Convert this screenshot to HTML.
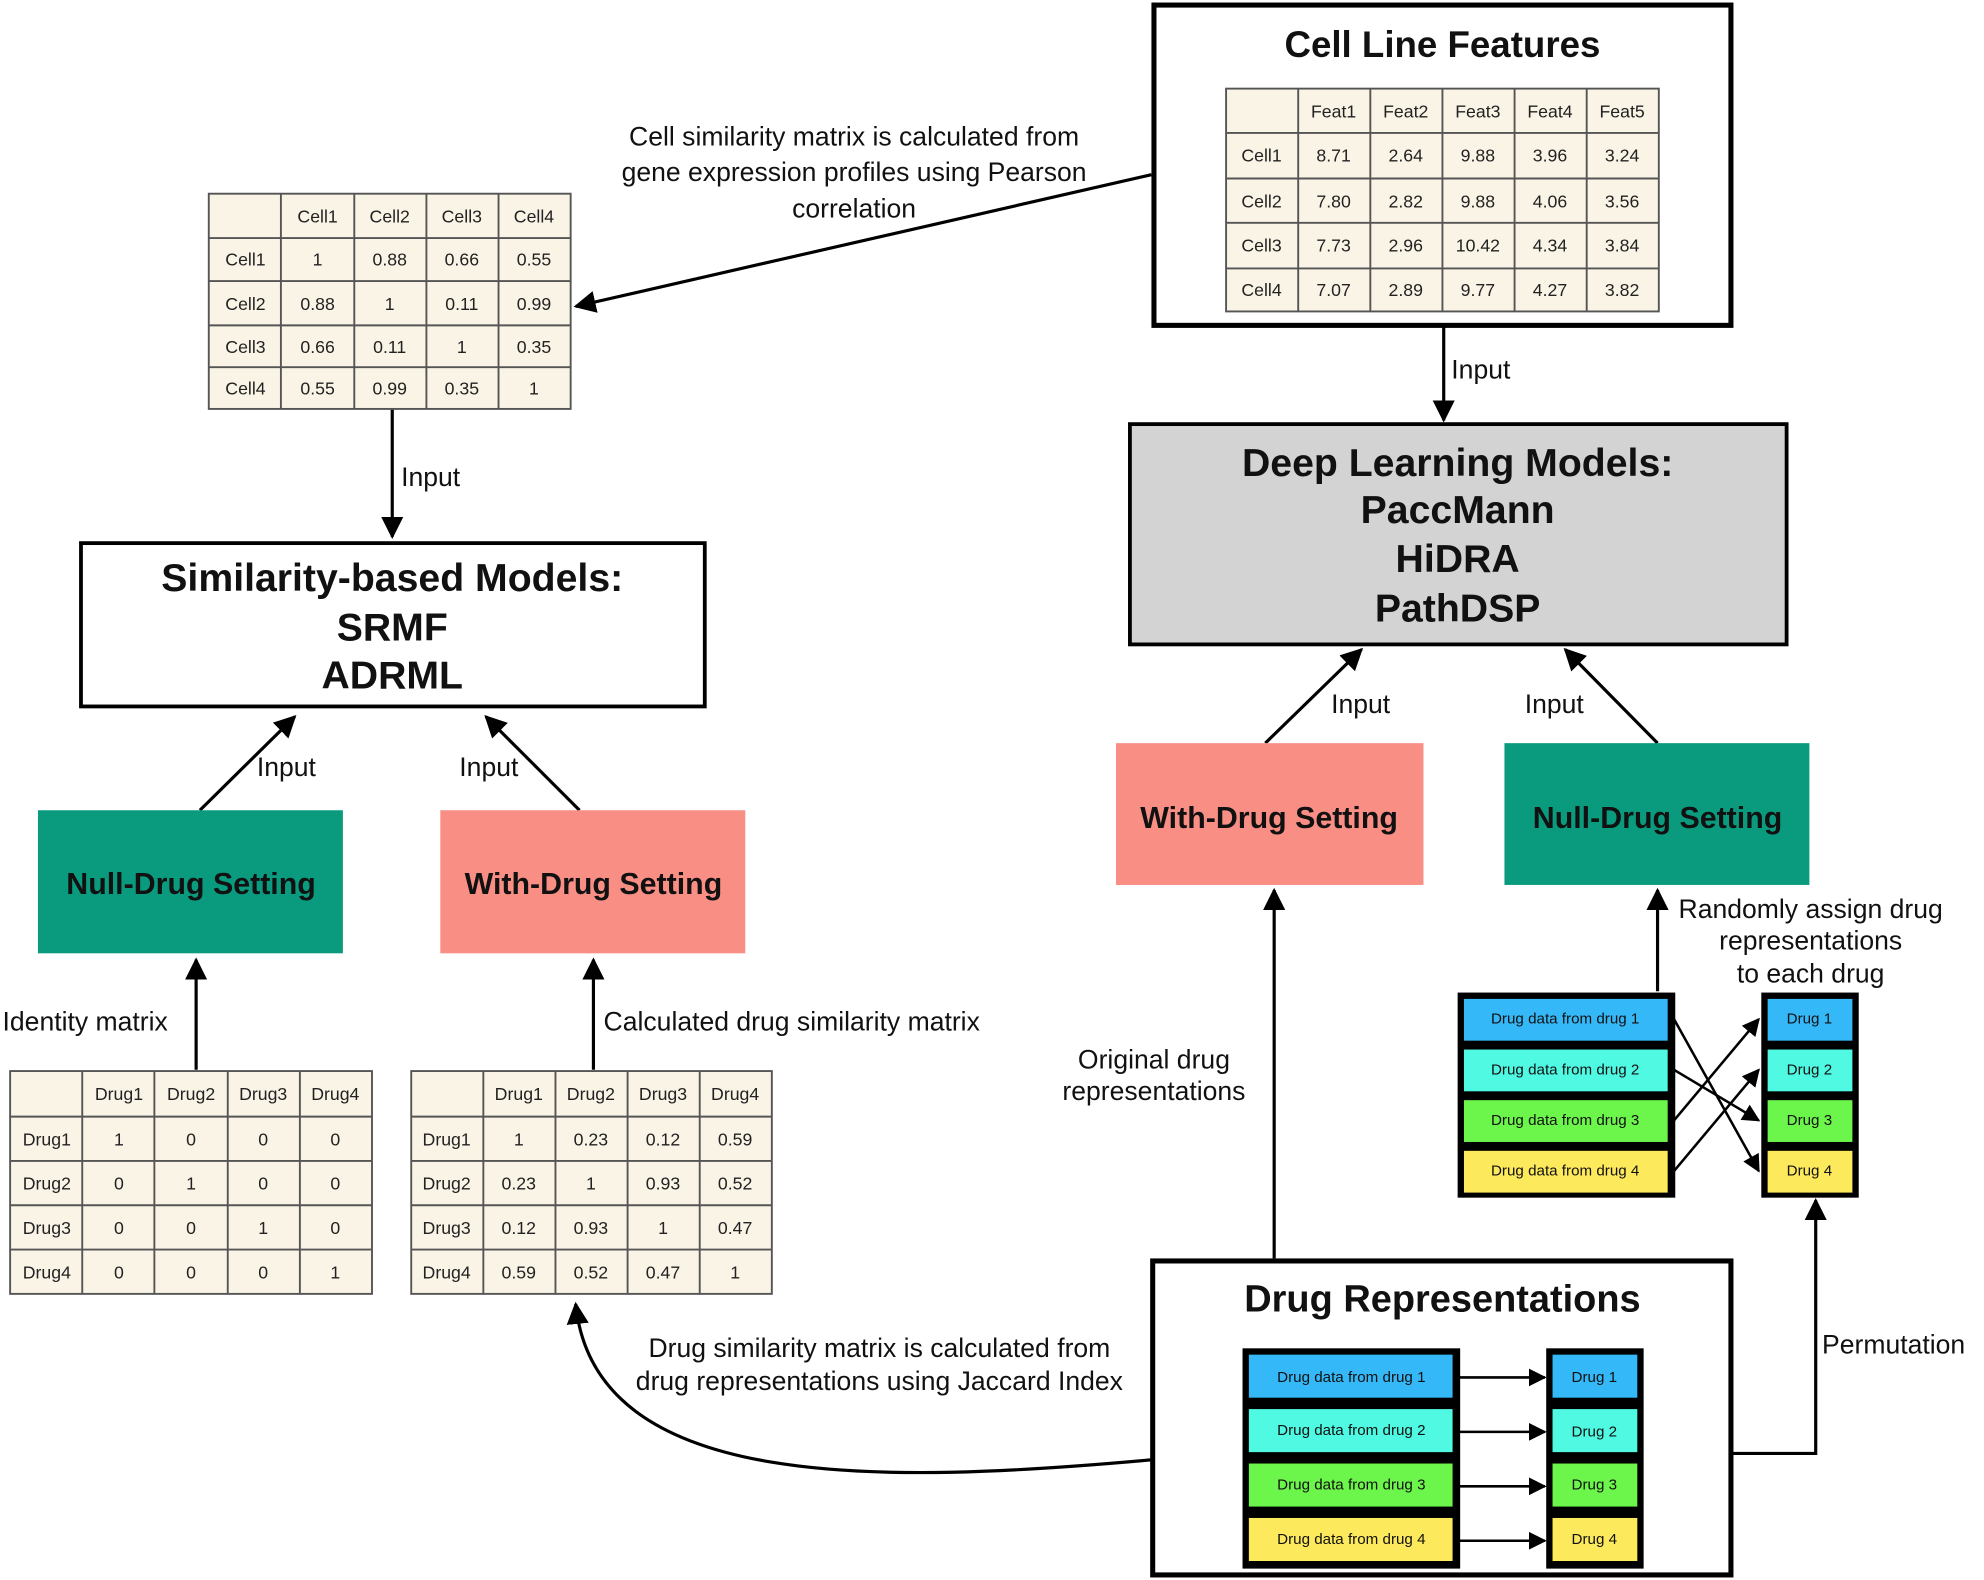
<!DOCTYPE html>
<html><head><meta charset="utf-8"><style>
html,body{margin:0;padding:0;background:#fff;}
svg{display:block;}
text{font-family:"Liberation Sans",Arial,sans-serif;fill:#111;}
.t{font-size:14px;text-anchor:middle;dominant-baseline:central;fill:#222;}
.lab{font-size:21px;}
.h{font-weight:bold;text-anchor:middle;}
.d{font-size:12px;text-anchor:middle;dominant-baseline:central;}
</style></head><body>
<svg width="1984" height="1580" viewBox="0 0 1568 1248" preserveAspectRatio="none" xmlns="http://www.w3.org/2000/svg">
<defs><marker id="a" viewBox="0 0 10 10" refX="9" refY="5" markerWidth="7" markerHeight="7" orient="auto-start-reverse"><path d="M0,0L10,5L0,10z" fill="#000"/></marker></defs>
<g stroke="#000" stroke-width="2.5" fill="none" marker-end="url(#a)">
<line x1="910" y1="138" x2="455" y2="242"/>
<line x1="310" y1="323" x2="310" y2="424"/>
<line x1="158" y1="640" x2="233" y2="566"/>
<line x1="458" y1="640" x2="384" y2="566"/>
<line x1="155" y1="845" x2="155" y2="758"/>
<line x1="469" y1="845" x2="469" y2="758"/>
<line x1="1141" y1="257" x2="1141" y2="332"/>
<line x1="1000" y1="587" x2="1076" y2="513"/>
<line x1="1310" y1="587" x2="1237" y2="513"/>
<line x1="1007" y1="994" x2="1007" y2="703"/>
<line x1="1310" y1="783" x2="1310" y2="703"/>
<polyline points="1368,1148 1435,1148 1435,948"/>
<path d="M911,1153 C700,1172 470,1180 455,1030"/>
<g stroke-width="2">
<line x1="1323" y1="805" x2="1390" y2="925"/>
<line x1="1323" y1="845" x2="1390" y2="885"/>
<line x1="1323" y1="885" x2="1390" y2="805"/>
<line x1="1323" y1="925" x2="1390" y2="845"/>
<line x1="1153" y1="1088" x2="1221" y2="1088"/>
<line x1="1153" y1="1131" x2="1221" y2="1131"/>
<line x1="1153" y1="1174" x2="1221" y2="1174"/>
<line x1="1153" y1="1217" x2="1221" y2="1217"/>
</g></g>

<!-- Cell Line Features -->
<rect x="912" y="4" width="456" height="253" fill="none" stroke="#000" stroke-width="4"/>
<text x="1140" y="45" class="h" font-size="29">Cell Line Features</text>
<g fill="#faf4e6" stroke="#555" stroke-width="1.5">
<rect x="969" y="70" width="342" height="176"/>
</g>
<g stroke="#555" stroke-width="1.5">
<line x1="1026" y1="70" x2="1026" y2="246"/><line x1="1083" y1="70" x2="1083" y2="246"/><line x1="1140" y1="70" x2="1140" y2="246"/><line x1="1197" y1="70" x2="1197" y2="246"/><line x1="1254" y1="70" x2="1254" y2="246"/>
<line x1="969" y1="105" x2="1311" y2="105"/><line x1="969" y1="141" x2="1311" y2="141"/><line x1="969" y1="176" x2="1311" y2="176"/><line x1="969" y1="212" x2="1311" y2="212"/>
</g>
<g class="t">
<text class="t" x="1054" y="88">Feat1</text><text class="t" x="1111" y="88">Feat2</text><text class="t" x="1168" y="88">Feat3</text><text class="t" x="1225" y="88">Feat4</text><text class="t" x="1282" y="88">Feat5</text>
<text class="t" x="997" y="123">Cell1</text><text class="t" x="1054" y="123">8.71</text><text class="t" x="1111" y="123">2.64</text><text class="t" x="1168" y="123">9.88</text><text class="t" x="1225" y="123">3.96</text><text class="t" x="1282" y="123">3.24</text>
<text class="t" x="997" y="159">Cell2</text><text class="t" x="1054" y="159">7.80</text><text class="t" x="1111" y="159">2.82</text><text class="t" x="1168" y="159">9.88</text><text class="t" x="1225" y="159">4.06</text><text class="t" x="1282" y="159">3.56</text>
<text class="t" x="997" y="194">Cell3</text><text class="t" x="1054" y="194">7.73</text><text class="t" x="1111" y="194">2.96</text><text class="t" x="1168" y="194">10.42</text><text class="t" x="1225" y="194">4.34</text><text class="t" x="1282" y="194">3.84</text>
<text class="t" x="997" y="229">Cell4</text><text class="t" x="1054" y="229">7.07</text><text class="t" x="1111" y="229">2.89</text><text class="t" x="1168" y="229">9.77</text><text class="t" x="1225" y="229">4.27</text><text class="t" x="1282" y="229">3.82</text>
</g>

<text class="lab" x="675" y="115" text-anchor="middle">Cell similarity matrix is calculated from</text>
<text class="lab" x="675" y="143" text-anchor="middle">gene expression profiles using Pearson</text>
<text class="lab" x="675" y="172" text-anchor="middle">correlation</text>

<!-- Cell sim table -->
<rect x="165" y="153" width="286" height="170" fill="#faf4e6" stroke="#555" stroke-width="1.5"/>
<g stroke="#555" stroke-width="1.5">
<line x1="222" y1="153" x2="222" y2="323"/><line x1="280" y1="153" x2="280" y2="323"/><line x1="337" y1="153" x2="337" y2="323"/><line x1="394" y1="153" x2="394" y2="323"/>
<line x1="165" y1="188" x2="451" y2="188"/><line x1="165" y1="222" x2="451" y2="222"/><line x1="165" y1="257" x2="451" y2="257"/><line x1="165" y1="290" x2="451" y2="290"/>
</g>
<text class="t" x="251" y="171">Cell1</text><text class="t" x="308" y="171">Cell2</text><text class="t" x="365" y="171">Cell3</text><text class="t" x="422" y="171">Cell4</text>
<text class="t" x="194" y="205">Cell1</text><text class="t" x="251" y="205">1</text><text class="t" x="308" y="205">0.88</text><text class="t" x="365" y="205">0.66</text><text class="t" x="422" y="205">0.55</text>
<text class="t" x="194" y="240">Cell2</text><text class="t" x="251" y="240">0.88</text><text class="t" x="308" y="240">1</text><text class="t" x="365" y="240">0.11</text><text class="t" x="422" y="240">0.99</text>
<text class="t" x="194" y="274">Cell3</text><text class="t" x="251" y="274">0.66</text><text class="t" x="308" y="274">0.11</text><text class="t" x="365" y="274">1</text><text class="t" x="422" y="274">0.35</text>
<text class="t" x="194" y="307">Cell4</text><text class="t" x="251" y="307">0.55</text><text class="t" x="308" y="307">0.99</text><text class="t" x="365" y="307">0.35</text><text class="t" x="422" y="307">1</text>

<text class="lab" x="317" y="384">Input</text>

<!-- Similarity box -->
<rect x="64" y="429" width="493" height="129" fill="#fff" stroke="#000" stroke-width="3"/>
<text class="h" x="310" y="467" font-size="31">Similarity-based Models:</text>
<text class="h" x="310" y="506" font-size="31">SRMF</text>
<text class="h" x="310" y="544" font-size="31">ADRML</text>

<rect x="30" y="640" width="241" height="113" fill="#0a9b7f"/>
<text class="h" x="151" y="706" font-size="24">Null-Drug Setting</text>
<rect x="348" y="640" width="241" height="113" fill="#f98e85"/>
<text class="h" x="469" y="706" font-size="24">With-Drug Setting</text>
<text class="lab" x="203" y="613">Input</text>
<text class="lab" x="363" y="613">Input</text>
<text class="lab" x="2" y="814">Identity matrix</text>
<text class="lab" x="477" y="814">Calculated drug similarity matrix</text>

<!-- Identity table -->
<rect x="8" y="846" width="286" height="176" fill="#faf4e6" stroke="#555" stroke-width="1.5"/>
<g stroke="#555" stroke-width="1.5">
<line x1="65" y1="846" x2="65" y2="1022"/><line x1="122" y1="846" x2="122" y2="1022"/><line x1="180" y1="846" x2="180" y2="1022"/><line x1="237" y1="846" x2="237" y2="1022"/>
<line x1="8" y1="882" x2="294" y2="882"/><line x1="8" y1="917" x2="294" y2="917"/><line x1="8" y1="952" x2="294" y2="952"/><line x1="8" y1="987" x2="294" y2="987"/>
</g>
<text class="t" x="94" y="864">Drug1</text><text class="t" x="151" y="864">Drug2</text><text class="t" x="208" y="864">Drug3</text><text class="t" x="265" y="864">Drug4</text>
<text class="t" x="37" y="900">Drug1</text><text class="t" x="94" y="900">1</text><text class="t" x="151" y="900">0</text><text class="t" x="208" y="900">0</text><text class="t" x="265" y="900">0</text>
<text class="t" x="37" y="935">Drug2</text><text class="t" x="94" y="935">0</text><text class="t" x="151" y="935">1</text><text class="t" x="208" y="935">0</text><text class="t" x="265" y="935">0</text>
<text class="t" x="37" y="970">Drug3</text><text class="t" x="94" y="970">0</text><text class="t" x="151" y="970">0</text><text class="t" x="208" y="970">1</text><text class="t" x="265" y="970">0</text>
<text class="t" x="37" y="1005">Drug4</text><text class="t" x="94" y="1005">0</text><text class="t" x="151" y="1005">0</text><text class="t" x="208" y="1005">0</text><text class="t" x="265" y="1005">1</text>

<!-- Drug sim table -->
<rect x="325" y="846" width="285" height="176" fill="#faf4e6" stroke="#555" stroke-width="1.5"/>
<g stroke="#555" stroke-width="1.5">
<line x1="382" y1="846" x2="382" y2="1022"/><line x1="439" y1="846" x2="439" y2="1022"/><line x1="496" y1="846" x2="496" y2="1022"/><line x1="553" y1="846" x2="553" y2="1022"/>
<line x1="325" y1="882" x2="610" y2="882"/><line x1="325" y1="917" x2="610" y2="917"/><line x1="325" y1="952" x2="610" y2="952"/><line x1="325" y1="987" x2="610" y2="987"/>
</g>
<text class="t" x="410" y="864">Drug1</text><text class="t" x="467" y="864">Drug2</text><text class="t" x="524" y="864">Drug3</text><text class="t" x="581" y="864">Drug4</text>
<text class="t" x="353" y="900">Drug1</text><text class="t" x="410" y="900">1</text><text class="t" x="467" y="900">0.23</text><text class="t" x="524" y="900">0.12</text><text class="t" x="581" y="900">0.59</text>
<text class="t" x="353" y="935">Drug2</text><text class="t" x="410" y="935">0.23</text><text class="t" x="467" y="935">1</text><text class="t" x="524" y="935">0.93</text><text class="t" x="581" y="935">0.52</text>
<text class="t" x="353" y="970">Drug3</text><text class="t" x="410" y="970">0.12</text><text class="t" x="467" y="970">0.93</text><text class="t" x="524" y="970">1</text><text class="t" x="581" y="970">0.47</text>
<text class="t" x="353" y="1005">Drug4</text><text class="t" x="410" y="1005">0.59</text><text class="t" x="467" y="1005">0.52</text><text class="t" x="524" y="1005">0.47</text><text class="t" x="581" y="1005">1</text>

<!-- Right side -->
<text class="lab" x="1147" y="299">Input</text>
<rect x="893" y="335" width="519" height="174" fill="#d3d3d3" stroke="#000" stroke-width="3"/>
<text class="h" x="1152" y="376" font-size="31">Deep Learning Models:</text>
<text class="h" x="1152" y="413" font-size="31">PaccMann</text>
<text class="h" x="1152" y="452" font-size="31">HiDRA</text>
<text class="h" x="1152" y="491" font-size="31">PathDSP</text>
<text class="lab" x="1052" y="563">Input</text>
<text class="lab" x="1205" y="563">Input</text>
<rect x="882" y="587" width="243" height="112" fill="#f98e85"/>
<text class="h" x="1003" y="654" font-size="24">With-Drug Setting</text>
<rect x="1189" y="587" width="241" height="112" fill="#0a9b7f"/>
<text class="h" x="1310" y="654" font-size="24">Null-Drug Setting</text>
<text class="lab" x="912" y="844" text-anchor="middle">Original drug</text>
<text class="lab" x="912" y="869" text-anchor="middle">representations</text>
<text class="lab" x="1431" y="725" text-anchor="middle">Randomly assign drug</text>
<text class="lab" x="1431" y="750" text-anchor="middle">representations</text>
<text class="lab" x="1431" y="776" text-anchor="middle">to each drug</text>

<!-- permutation lists -->
<rect x="1152" y="784" width="172" height="162" fill="#000"/>
<rect x="1157" y="789" width="161" height="33" fill="#35b8f8"/>
<rect x="1157" y="829" width="161" height="33" fill="#4ff9e2"/>
<rect x="1157" y="869" width="161" height="33" fill="#6cf54a"/>
<rect x="1157" y="909" width="161" height="33" fill="#fde95c"/>
<text class="d" x="1237" y="805">Drug data from drug 1</text>
<text class="d" x="1237" y="845">Drug data from drug 2</text>
<text class="d" x="1237" y="885">Drug data from drug 3</text>
<text class="d" x="1237" y="925">Drug data from drug 4</text>
<rect x="1392" y="784" width="77" height="162" fill="#000"/>
<rect x="1397" y="789" width="67" height="33" fill="#35b8f8"/>
<rect x="1397" y="829" width="67" height="33" fill="#4ff9e2"/>
<rect x="1397" y="869" width="67" height="33" fill="#6cf54a"/>
<rect x="1397" y="909" width="67" height="33" fill="#fde95c"/>
<text class="d" x="1430" y="805">Drug 1</text>
<text class="d" x="1430" y="845">Drug 2</text>
<text class="d" x="1430" y="885">Drug 3</text>
<text class="d" x="1430" y="925">Drug 4</text>

<text class="lab" x="1440" y="1069">Permutation</text>
<text class="lab" x="695" y="1072" text-anchor="middle">Drug similarity matrix is calculated from</text>
<text class="lab" x="695" y="1098" text-anchor="middle">drug representations using Jaccard Index</text>

<!-- Drug Representations -->
<rect x="911" y="996" width="457" height="248" fill="none" stroke="#000" stroke-width="4"/>
<text class="h" x="1140" y="1036" font-size="30">Drug Representations</text>
<rect x="982" y="1065" width="172" height="174" fill="#000"/>
<rect x="987" y="1070" width="161" height="34" fill="#35b8f8"/>
<rect x="987" y="1113" width="161" height="34" fill="#4ff9e2"/>
<rect x="987" y="1156" width="161" height="34" fill="#6cf54a"/>
<rect x="987" y="1199" width="161" height="34" fill="#fde95c"/>
<text class="d" x="1068" y="1088">Drug data from drug 1</text>
<text class="d" x="1068" y="1130">Drug data from drug 2</text>
<text class="d" x="1068" y="1173">Drug data from drug 3</text>
<text class="d" x="1068" y="1216">Drug data from drug 4</text>
<rect x="1222" y="1065" width="77" height="174" fill="#000"/>
<rect x="1227" y="1070" width="67" height="34" fill="#35b8f8"/>
<rect x="1227" y="1113" width="67" height="34" fill="#4ff9e2"/>
<rect x="1227" y="1156" width="67" height="34" fill="#6cf54a"/>
<rect x="1227" y="1199" width="67" height="34" fill="#fde95c"/>
<text class="d" x="1260" y="1088">Drug 1</text>
<text class="d" x="1260" y="1131">Drug 2</text>
<text class="d" x="1260" y="1173">Drug 3</text>
<text class="d" x="1260" y="1216">Drug 4</text>
</svg>
</body></html>
